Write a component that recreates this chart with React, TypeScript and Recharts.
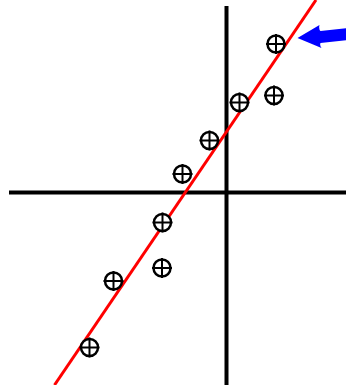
import { ReferenceDot, ReferenceLine, Scatter, ScatterChart, XAxis, YAxis } from 'recharts'

// observations
const xs = [4.95, 1.3, 4.75, -1.7, -4.4, -6.4, -6.45, -11.3, -13.7]
const ys = [14.85, 9.0, 9.7, 5.2, 1.85, -3.0, -7.55, -8.85, -15.5]

// fitted line end points
const fitX = [-17.2, 8.95]
const fitY = [-19.25, 19.25]

// visible window, 10px per unit
const xDomain = [-22.65, 11.95]
const yDomain = [-19.25, 19.25]

// axis extents
const axisTop = 18.65
const axisLeft = -21.75

// the highlighted observation
const flagged = 0

const points = xs.map((x, i) => ({ x, y: ys[i] }))

const Marker = (props: any) => {
  const { cx, cy } = props
  return (
    <g stroke="#000" fill="none" strokeWidth={2.5}>
      <circle cx={cx} cy={cy} r={8.5} fill="#fff" />
      <line x1={cx - 10} y1={cy} x2={cx + 10} y2={cy} strokeWidth={2} />
      <line x1={cx} y1={cy - 10} x2={cx} y2={cy + 10} strokeWidth={2} />
    </g>
  )
}

// arrow drawn relative to the flagged point, pointing at it from the right
const Arrow = (props: any) => {
  const { cx, cy } = props
  const tx = cx + 21.5
  const ty = cy - 6
  const d = `M${tx},${ty} L${tx + 22},${ty - 13} Q${tx + 21},${ty - 9} ${tx + 23},${ty - 7} L${tx + 52},${ty - 10} L${tx + 52},${ty + 2} L${tx + 23},${ty + 5} Q${tx + 22},${ty + 7} ${tx + 24},${ty + 10} Z`
  return <path d={d} fill="#0000ff" stroke="none" />
}

const App = () => {
  return (
    <div style={{ position: 'absolute', left: 0, top: 0, background: '#fff' }}>
      <ScatterChart width={346} height={385} margin={{ top: 0, right: 0, bottom: 0, left: 0 }}>
        <XAxis type="number" dataKey="x" domain={xDomain} allowDataOverflow hide />
        <YAxis type="number" dataKey="y" domain={yDomain} allowDataOverflow hide />
        <ReferenceLine
          segment={[{ x: 0, y: axisTop }, { x: 0, y: yDomain[0] }]}
          stroke="#000"
          strokeWidth={4}
          ifOverflow="visible"
        />
        <ReferenceLine
          segment={[{ x: axisLeft, y: 0 }, { x: xDomain[1], y: 0 }]}
          stroke="#000"
          strokeWidth={4}
          ifOverflow="visible"
        />
        <Scatter data={points} shape={Marker} isAnimationActive={false} />
        <ReferenceLine
          segment={[{ x: fitX[0], y: fitY[0] }, { x: fitX[1], y: fitY[1] }]}
          stroke="#ff0000"
          strokeWidth={3}
          ifOverflow="visible"
        />
        <ReferenceDot
          x={xs[flagged]}
          y={ys[flagged]}
          shape={Arrow}
          ifOverflow="visible"
        />
      </ScatterChart>
    </div>
  )
}

export default App
